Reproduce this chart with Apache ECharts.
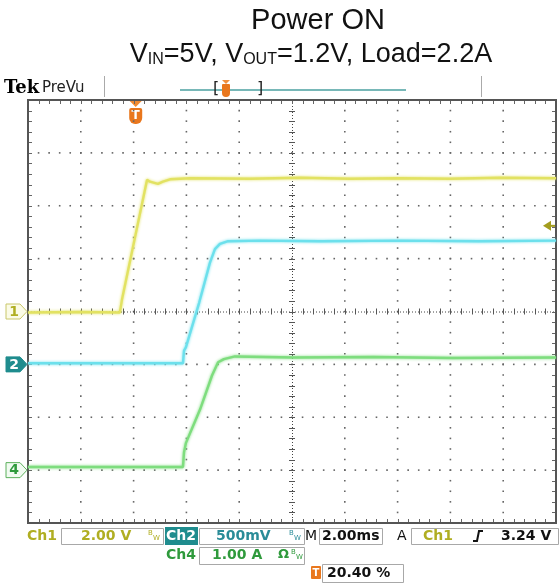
<!DOCTYPE html>
<html><head><meta charset="utf-8">
<script src="https://cdn.jsdelivr.net/npm/echarts@6/dist/echarts.min.js"></script>
<style>html,body{margin:0;padding:0;background:#fff}#c{width:559px;height:585px}</style>
</head><body><div id="c"></div>
<script>
// ---------------- data ----------------
const ch1TimeMs = [-4.08, -2.11, -0.60, -0.52, 0.43, 0.54, 0.84, 1.03, 1.30, 2.06, 4.33, 6.22, 8.12, 10.01, 11.90, 13.80, 15.92];
const ch1Volts  = [-0.04, -0.02, -0.04, 0.45, 4.98, 4.91, 4.83, 4.91, 5.00, 5.04, 5.02, 5.06, 5.02, 5.04, 5.02, 5.06, 5.04];
const ch2TimeMs = [-4.08, 1.79, 1.83, 1.90, 2.40, 2.81, 3.00, 3.19, 3.50, 4.71, 7.00, 10.00, 13.00, 15.92];
const ch2Volts  = [0.01, 0.01, 0.13, 0.16, 0.58, 0.96, 1.09, 1.14, 1.165, 1.17, 1.165, 1.17, 1.165, 1.17];
const ch4TimeMs = [-4.08, 1.79, 1.83, 1.90, 2.44, 2.89, 3.12, 3.34, 3.76, 6.00, 9.00, 12.00, 15.92];
const ch4Amps   = [0.06, 0.06, 0.34, 0.51, 1.15, 1.79, 2.04, 2.10, 2.15, 2.13, 2.14, 2.12, 2.13];

const timePerDivMs = 2.00;
const triggerPosPct = 20.40;
const triggerLevelV = 3.24;
const ch1VoltsPerDiv = 2.00, ch2VoltsPerDiv = 0.50, ch4AmpsPerDiv = 1.00;
const ch1GroundDiv = 0, ch2GroundDiv = -1, ch4GroundDiv = -3;

const titleLine1 = 'Power ON';
const titleParts = ['V', 'IN', '=5V, V', 'OUT', '=1.2V, Load=2.2A'];
const readoutLabels = ['Ch1', '2.00 V', 'Ch2', '500mV', 'Ch4', '1.00 A', 'M', '2.00ms', 'A', 'Ch1', '3.24 V', '20.40 %'];
// ---------------------------------------------------------------------

(function () {
const zip = (a, b) => a.map((v, i) => [v, b[i]]);
const tMin = -triggerPosPct / 100 * 10 * timePerDivMs;
const tMax = tMin + 10 * timePerDivMs;
const chAxis = (vpd, g) => ({ type: 'value', min: (-4 - g) * vpd, max: (4 - g) * vpd, show: false, gridIndex: 0 });

const C1 = '#e2e262', C2 = '#6ce0ec', C4 = '#7edd7e';
const OLIVE = '#b0ae22', TEAL = '#1f8c8e', GREEN = '#2f9a3c', ORANGE = '#e9771d';

function graticule(params, api) {
  const ch = [];
  const P = (x, y) => api.coord([x, y]);
  const dot = (x, y) => ch.push({ type: 'rect', shape: { x: x - 0.8, y: y - 0.8, width: 1.6, height: 1.6 }, style: { fill: '#666' } });
  const seg = (x1, y1, x2, y2, c, w, dash) => ch.push({ type: 'line', shape: { x1, y1, x2, y2 }, style: { stroke: c, lineWidth: w, lineDash: dash || null } });
  for (let i = 1; i <= 9; i++) { if (i === 5) continue; for (let k = 0; k <= 40; k++) { const q = P(i, -4 + k * 0.2); dot(q[0], q[1]); } }
  for (let j = -3; j <= 3; j++) { if (j === 0) continue; for (let k = 0; k <= 50; k++) { const q = P(k * 0.2, j); dot(q[0], q[1]); } }
  const l = P(0, 0), r = P(10, 0), t = P(5, 4), b = P(5, -4);
  seg(l[0], l[1] + 0.5, r[0], r[1] + 0.5, '#444', 1, [1, 2]);
  seg(t[0] + 0.5, t[1], b[0] + 0.5, b[1], '#444', 1, [1, 2]);
  for (let k = 0; k <= 50; k++) { const q = P(k * 0.2, 0); seg(Math.round(q[0]) + 0.5, q[1] - 3, Math.round(q[0]) + 0.5, q[1] + 3, '#555', 1); }
  for (let k = 0; k <= 40; k++) { const q = P(5, -4 + k * 0.2); seg(q[0] - 3, Math.round(q[1]) + 0.5, q[0] + 3, Math.round(q[1]) + 0.5, '#555', 1); }
  const tl = P(0, 4), br = P(10, -4);
  for (let k = 0; k <= 50; k++) { const q = P(k * 0.2, 0); const x = Math.round(q[0]) + 0.5; seg(x, tl[1], x, tl[1] + 4, '#666', 1); seg(x, br[1], x, br[1] - 4, '#666', 1); }
  for (let k = 0; k <= 40; k++) { const q = P(0, -4 + k * 0.2); const y = Math.round(q[1]) + 0.5; seg(tl[0], y, tl[0] + 4, y, '#666', 1); seg(br[0], y, br[0] - 4, y, '#666', 1); }
  ch.push({ type: 'rect', shape: { x: tl[0], y: tl[1], width: br[0] - tl[0], height: br[1] - tl[1] }, style: { fill: null, stroke: '#555', lineWidth: 2 } });
  return { type: 'group', children: ch };
}

const chart = echarts.init(document.getElementById('c'), null, { renderer: 'canvas' });
const traceStyle = c => ({ color: c, width: 2.4, shadowBlur: 3, shadowColor: c });

chart.setOption({
  animation: false,
  backgroundColor: '#ffffff',
  grid: { left: 28, top: 100, width: 528, height: 423, containLabel: false },
  xAxis: [
    { type: 'value', min: 0, max: 10, show: false, gridIndex: 0 },
    { type: 'value', min: tMin, max: tMax, show: false, gridIndex: 0 }
  ],
  yAxis: [
    { type: 'value', min: -4, max: 4, show: false, gridIndex: 0 },
    chAxis(ch1VoltsPerDiv, ch1GroundDiv),
    chAxis(ch2VoltsPerDiv, ch2GroundDiv),
    chAxis(ch4AmpsPerDiv, ch4GroundDiv)
  ],
  series: [
    { type: 'custom', xAxisIndex: 0, yAxisIndex: 0, renderItem: graticule, data: [[5, 0]], silent: true, z: 1 },
    { type: 'line', name: 'Ch1', xAxisIndex: 1, yAxisIndex: 1, data: zip(ch1TimeMs, ch1Volts), showSymbol: false, symbol: 'none', lineStyle: traceStyle(C1), z: 3 },
    { type: 'line', name: 'Ch2', xAxisIndex: 1, yAxisIndex: 2, data: zip(ch2TimeMs, ch2Volts), showSymbol: false, symbol: 'none', lineStyle: traceStyle(C2), z: 3 },
    { type: 'line', name: 'Ch4', xAxisIndex: 1, yAxisIndex: 3, data: zip(ch4TimeMs, ch4Amps), showSymbol: false, symbol: 'none', lineStyle: traceStyle(C4), z: 3 }
  ]
});

const trigX = chart.convertToPixel({ xAxisIndex: 1 }, 0);
const trigY = chart.convertToPixel({ yAxisIndex: 1 }, triggerLevelV);
const g1 = chart.convertToPixel({ yAxisIndex: 1 }, 0);
const g2 = chart.convertToPixel({ yAxisIndex: 2 }, 0);
const g4 = chart.convertToPixel({ yAxisIndex: 3 }, 0);
const gRight = chart.convertToPixel({ xAxisIndex: 0 }, 10);
const gTop = chart.convertToPixel({ yAxisIndex: 0 }, 4);

const SANS = '"DejaVu Sans", Verdana, sans-serif';
const NARROW = '"Liberation Sans Narrow", "Arial Narrow", "Liberation Sans", sans-serif';
const txt = (x, y, text, fill, size, weight) => ({ type: 'text', x, y, style: { text, fill, font: (weight || 'bold') + ' ' + (size || 14) + 'px ' + SANS, textVerticalAlign: 'middle' } });
const box = (x, y, w, h) => ({ type: 'rect', shape: { x: x + 0.5, y: y + 0.5, width: w, height: h }, style: { fill: '#fff', stroke: '#a8a8a8', lineWidth: 1 } });
const bw = (x, y, c) => [txt(x, y - 3, 'B', c, 7, 'normal'), txt(x + 5, y + 2, 'W', c, 7, 'normal')];
const chMarker = (y, label, fill, stroke, color) => [
  { type: 'polygon', shape: { points: [[6, y - 7.5], [20, y - 7.5], [27, y], [20, y + 7.5], [6, y + 7.5]] }, style: { fill, stroke, lineWidth: 1 } },
  { type: 'text', x: 14, y: y + 0.5, style: { text: label, fill: color, font: 'bold 14px ' + SANS, textAlign: 'center', textVerticalAlign: 'middle' } }
];

const graphics = [
  { type: 'text', x: 318, y: 6, style: { text: titleLine1, fill: '#111', font: '29px ' + NARROW, textAlign: 'center', textVerticalAlign: 'top' } },
  { type: 'text', x: 311, y: 38, style: {
      text: '{m|' + titleParts[0] + '}{s|' + titleParts[1] + '}{m|' + titleParts[2] + '}{s|' + titleParts[3] + '}{m|' + titleParts[4] + '}',
      textAlign: 'center', textVerticalAlign: 'top', fill: '#111',
      rich: {
        m: { fontSize: 27, fontFamily: NARROW, lineHeight: 30, verticalAlign: 'bottom', fill: '#111' },
        s: { fontSize: 16, fontFamily: NARROW, lineHeight: 16, verticalAlign: 'bottom', fill: '#111' }
      } } },
  { type: 'text', x: 4, y: 88, style: { text: 'Tek', fill: '#000', font: 'bold 18px "DejaVu Serif", serif', textVerticalAlign: 'middle' } },
  { type: 'text', x: 42, y: 88, style: { text: 'PreVu', fill: '#222', font: '15px ' + SANS, textVerticalAlign: 'middle' } },
  { type: 'line', shape: { x1: 104.5, y1: 76, x2: 104.5, y2: 97 }, style: { stroke: '#aaa', lineWidth: 1 } },
  { type: 'line', shape: { x1: 481.5, y1: 76, x2: 481.5, y2: 97 }, style: { stroke: '#aaa', lineWidth: 1 } },
  { type: 'line', shape: { x1: 180, y1: 90, x2: 406, y2: 90 }, style: { stroke: '#78b8b8', lineWidth: 2 } },
  { type: 'text', x: 213, y: 89, style: { text: '[', fill: '#222', font: '16px ' + SANS, textVerticalAlign: 'middle' } },
  { type: 'text', x: 257, y: 89, style: { text: ']', fill: '#222', font: '16px ' + SANS, textVerticalAlign: 'middle' } },
  { type: 'rect', shape: { x: 222, y: 84, width: 8, height: 13, r: [1, 1, 4, 4] }, style: { fill: ORANGE } },
  { type: 'polygon', shape: { points: [[222, 80], [230, 80], [226, 84]] }, style: { fill: '#f09040' } },
  { type: 'polygon', shape: { points: [[trigX - 6, gTop + 1], [trigX + 6, gTop + 1], [trigX, gTop + 7]] }, style: { fill: '#f08a30' } },
  { type: 'rect', shape: { x: trigX - 6.5, y: gTop + 8, width: 13, height: 16, r: [2, 2, 6, 6] }, style: { fill: ORANGE } },
  { type: 'text', x: trigX, y: gTop + 15.5, style: { text: 'T', fill: '#fff', font: 'bold 12px ' + SANS, textAlign: 'center', textVerticalAlign: 'middle' } },
  { type: 'polygon', shape: { points: [[gRight - 13, trigY], [gRight - 5, trigY - 5], [gRight - 5, trigY + 5]] }, style: { fill: '#a39d1e' } },
  { type: 'line', shape: { x1: gRight - 6, y1: trigY, x2: gRight - 1, y2: trigY }, style: { stroke: '#a39d1e', lineWidth: 2 } },
  ...chMarker(g1, '1', '#fbfbe6', '#c9c76a', OLIVE),
  ...chMarker(g2, '2', TEAL, TEAL, '#ffffff'),
  ...chMarker(g4, '4', '#f1fbf1', '#5cb05c', GREEN),
  txt(27, 536, readoutLabels[0], OLIVE),
  box(61, 528, 102, 16),
  txt(81, 536, readoutLabels[1], OLIVE),
  ...bw(148, 536, OLIVE),
  { type: 'rect', shape: { x: 165, y: 527, width: 33, height: 18 }, style: { fill: TEAL } },
  txt(166, 536, readoutLabels[2], '#ffffff'),
  box(199, 528, 105, 16),
  txt(216, 536, readoutLabels[3], '#2a8c98'),
  ...bw(289, 536, '#2a8c98'),
  txt(305, 536, readoutLabels[6], '#111', 14, 'normal'),
  box(319, 528, 63, 16),
  txt(322, 536, readoutLabels[7], '#111'),
  txt(397, 536, readoutLabels[8], '#111', 14, 'normal'),
  box(411, 528, 147, 16),
  txt(423, 536, readoutLabels[9], OLIVE),
  { type: 'polyline', shape: { points: [[473, 541], [477, 541], [479, 531], [483, 531]] }, style: { stroke: '#111', lineWidth: 2, fill: null } },
  txt(501, 536, readoutLabels[10], '#111'),
  txt(166, 555, readoutLabels[4], GREEN),
  box(199, 547, 105, 17),
  txt(212, 555, readoutLabels[5], GREEN),
  txt(278, 555, 'Ω', GREEN, 13),
  ...bw(291, 555, GREEN),
  { type: 'rect', shape: { x: 311, y: 566, width: 10, height: 13, r: 1 }, style: { fill: ORANGE } },
  { type: 'text', x: 316, y: 573, style: { text: 'T', fill: '#fff', font: 'bold 10px ' + SANS, textAlign: 'center', textVerticalAlign: 'middle' } },
  box(322, 564, 81, 18),
  txt(327, 573, readoutLabels[11], '#111')
];

chart.setOption({ graphic: graphics });
})();
</script>
</body></html>
